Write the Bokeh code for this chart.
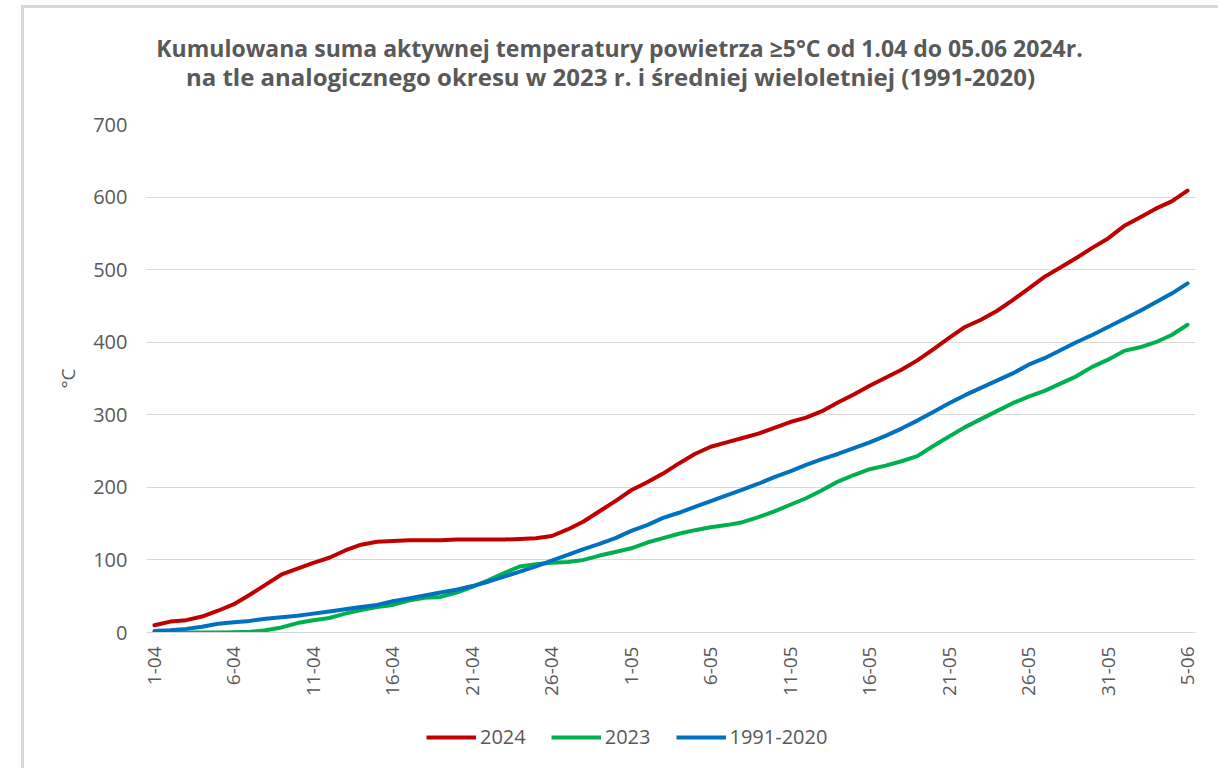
from math import pi
from bokeh.plotting import figure
from bokeh.models import Legend, LegendItem, Label, FixedTicker, Range1d, ColumnDataSource
from bokeh.layouts import column
from bokeh.embed import file_html
from bokeh.resources import INLINE

# ---- data ----
day_index = list(range(66))  # 1 April .. 5 June
tick_positions = [0, 5, 10, 15, 20, 25, 30, 35, 40, 45, 50, 55, 60, 65]
tick_labels = ["1-04", "6-04", "11-04", "16-04", "21-04", "26-04", "1-05",
               "6-05", "11-05", "16-05", "21-05", "26-05", "31-05", "5-06"]
y_ticks = [0, 100, 200, 300, 400, 500, 600, 700]

s2024 = [10, 15, 17, 22, 30, 39, 52, 66, 80, 88,
         96, 103, 113, 121, 125, 126, 127, 127, 127, 128,
         128, 128, 128, 129, 130, 133, 142, 153, 167, 181,
         196, 207, 219, 233, 246, 256, 262, 268, 274, 282,
         290, 296, 305, 317, 328, 340, 351, 362, 375, 390,
         406, 421, 431, 443, 458, 474, 490, 503, 516, 530,
         543, 560, 572, 584, 594, 609]
s2023 = [0, 0, 0, 0, 0, 0.5, 1, 3, 7, 13,
         17, 20, 26, 31, 35, 38, 44, 48, 49, 55,
         63, 72, 82, 91, 94, 96, 97, 100, 106, 111,
         116, 124, 130, 136, 141, 145, 148, 152, 159, 167,
         176, 185, 196, 208, 217, 225, 230, 236, 243, 257,
         270, 283, 294, 305, 316, 325, 333, 343, 353, 366,
         376, 388, 393, 400, 410, 424]
s_clim = [2, 3, 5, 8, 12, 14, 16, 19, 21, 23,
          26, 29, 32, 35, 38, 43, 47, 51, 55, 59,
          64, 70, 77, 84, 91, 99, 107, 115, 122, 130,
          140, 148, 158, 165, 173, 181, 189, 197, 205, 214,
          222, 231, 239, 246, 254, 262, 271, 281, 292, 304,
          316, 327, 337, 347, 357, 369, 378, 389, 400, 410,
          421, 432, 443, 455, 467, 481]

series_names = ["2024", "2023", "1991-2020"]
series_colors = ["#C00000", "#00B050", "#0070C0"]

title_line1 = "Kumulowana suma aktywnej temperatury powietrza ≥5°C od 1.04 do 05.06 2024r."
title_line2 = "na tle analogicznego okresu w 2023 r. i średniej wieloletniej (1991-2020)"
y_label = "°C"

FONT = "Open Sans"
GREY = "#595959"
W = 1194

src = ColumnDataSource(dict(x=day_index, a=s2024, b=s2023, c=s_clim))


def bare(height, x_range, y_range):
    f = figure(width=W, height=height, output_backend="svg", toolbar_location=None,
               x_range=x_range, y_range=y_range, x_axis_location=None,
               y_axis_location=None, min_border=0, title=None)
    f.outline_line_color = None
    f.background_fill_color = "white"
    f.border_fill_color = "white"
    f.grid.visible = False
    return f


# ---- title block (frame is aligned with the main chart's frame) ----
pt = bare(92, Range1d(146, 1195), Range1d(100, 8))
pt.add_layout(Label(x=619, y=47, text=title_line1, text_align="center",
                    text_baseline="middle", text_font=FONT, text_font_size="23px",
                    text_font_style="bold", text_color=GREY))
pt.add_layout(Label(x=610, y=76, text=title_line2, text_align="center",
                    text_baseline="middle", text_font=FONT, text_font_size="24px",
                    text_font_style="bold", text_color=GREY))

# ---- main chart ----
p = figure(width=W, height=604, output_backend="svg", toolbar_location=None,
           x_range=Range1d(-0.5, 65.5), y_range=Range1d(0, 700),
           min_border_left=122, min_border_right=23, min_border_top=24,
           min_border_bottom=72, title=None)
p.outline_line_color = None
p.background_fill_color = "white"
p.border_fill_color = "white"

for col, color in zip(["a", "b", "c"], series_colors):
    p.line("x", col, source=src, line_color=color, line_width=4,
           line_join="round", line_cap="round")

p.xaxis.ticker = FixedTicker(ticks=tick_positions)
p.xaxis.major_label_overrides = {t: l for t, l in zip(tick_positions, tick_labels)}
p.xaxis.major_label_orientation = pi / 2
p.xaxis.axis_line_color = "#d9d9d9"
p.xaxis.axis_line_width = 1
p.xaxis.major_tick_line_color = None
p.xaxis.minor_tick_line_color = None
p.xaxis.major_label_standoff = 8
p.xaxis.major_label_text_font = FONT
p.xaxis.major_label_text_font_size = "19px"
p.xaxis.major_label_text_color = GREY

p.yaxis.ticker = FixedTicker(ticks=y_ticks)
p.yaxis.axis_line_color = None
p.yaxis.major_tick_line_color = None
p.yaxis.minor_tick_line_color = None
p.yaxis.major_label_standoff = 13
p.yaxis.major_label_text_font = FONT
p.yaxis.major_label_text_font_size = "20px"
p.yaxis.major_label_text_color = GREY
p.yaxis.axis_label = y_label
p.yaxis.axis_label_text_font = FONT
p.yaxis.axis_label_text_font_size = "19px"
p.yaxis.axis_label_text_font_style = "normal"
p.yaxis.axis_label_text_color = GREY
p.yaxis.axis_label_standoff = 9

p.xgrid.grid_line_color = None
p.ygrid.grid_line_color = "#d9d9d9"
p.ygrid.grid_line_width = 1

# ---- legend block (series drawn outside its visible range; only the legend shows) ----
pl = bare(64, Range1d(0, 1), Range1d(-2, -1))
leg_renderers = [pl.line("x", col, source=src, line_color=c, line_width=4)
                 for col, c in zip(["a", "b", "c"], series_colors)]
items = [LegendItem(label=n, renderers=[r]) for n, r in zip(series_names, leg_renderers)]
legend = Legend(items=items, orientation="horizontal", location=(280, 18),
                label_text_font=FONT, label_text_font_size="20px", label_text_color=GREY,
                glyph_width=50, glyph_height=20, label_standoff=4, spacing=25,
                border_line_color=None, background_fill_alpha=0, padding=0, margin=0)
pl.add_layout(legend)

layout = column(pt, p, pl, spacing=0,
                styles={"margin-left": "21px", "margin-top": "5px",
                        "border-left": "3px solid #d9d9d9",
                        "border-top": "3px solid #d9d9d9"})

open("out.html", "w").write(file_html(layout, INLINE))
